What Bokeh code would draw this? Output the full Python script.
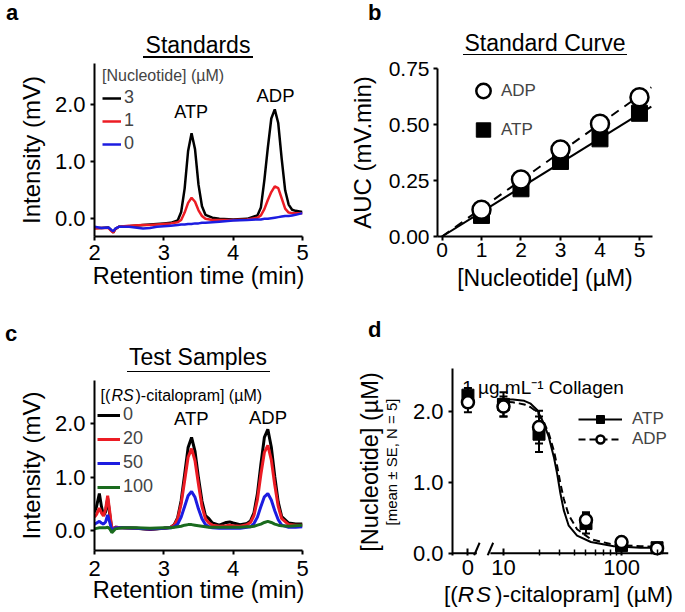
import numpy as np
from bokeh.plotting import figure
from bokeh.layouts import column, row
from bokeh.models import (Label, Legend, LegendItem, FixedTicker, PrintfTickFormatter,
                          Range1d, ColumnDataSource, Whisker, TeeHead, Div, LinearAxis)
from bokeh.embed import file_html
from bokeh.resources import INLINE

FONT = "Liberation Sans"

# ---------------- panel a : standards chromatograms ----------------
a_time = [2.00, 2.10, 2.20, 2.24, 2.27, 2.30, 2.35, 2.50, 2.70, 2.80, 2.90, 3.00, 3.10,
          3.20, 3.25, 3.30, 3.35, 3.40, 3.45, 3.50, 3.55, 3.60, 3.70, 3.80,
          4.00, 4.20, 4.35, 4.40, 4.45, 4.50, 4.55, 4.60, 4.65, 4.70, 4.75, 4.80, 4.85, 4.90, 5.00]
a_3uM = [-0.16, -0.16, -0.15, -0.20, -0.24, -0.18, -0.14, -0.13, -0.11, -0.10, -0.09, -0.08, -0.07,
         -0.03, 0.12, 0.53, 1.19, 1.50, 1.22, 0.60, 0.22, 0.07, 0.02, 0.00,
         -0.01, 0.00, 0.06, 0.20, 0.68, 1.25, 1.76, 1.92, 1.68, 1.05, 0.50, 0.25, 0.16, 0.14, 0.12]
a_1uM = [-0.17, -0.16, -0.16, -0.21, -0.24, -0.18, -0.14, -0.12, -0.11, -0.11, -0.10, -0.09, -0.08,
         -0.06, -0.02, 0.11, 0.28, 0.37, 0.30, 0.15, 0.05, 0.00, -0.02, -0.02,
         -0.02, -0.01, 0.02, 0.06, 0.17, 0.33, 0.47, 0.57, 0.54, 0.36, 0.18, 0.11, 0.10, 0.10, 0.10]
a_0uM = [-0.14, -0.16, -0.15, -0.19, -0.22, -0.17, -0.14, -0.14, -0.17, -0.16, -0.14, -0.13, -0.12,
         -0.11, -0.10, -0.10, -0.09, -0.09, -0.08, -0.08, -0.07, -0.07, -0.06, -0.05,
         -0.03, -0.02, -0.01, -0.01, 0.00, 0.00, 0.01, 0.02, 0.03, 0.04, 0.05, 0.05, 0.06, 0.07, 0.10]
a_labels = ["3", "1", "0"]

# ---------------- panel b : standard curve ----------------
b_conc = [1, 2, 3, 4, 5]
b_adp = [0.119, 0.254, 0.388, 0.503, 0.622]
b_atp = [0.094, 0.213, 0.335, 0.436, 0.550]
b_fit_range = [0.0, 5.3]

# ---------------- panel c : test samples ----------------
c_time = [2.00, 2.03, 2.07, 2.10, 2.13, 2.16, 2.19, 2.22, 2.25, 2.30, 2.40, 2.60, 2.80, 3.00,
          3.10, 3.15, 3.20, 3.25, 3.30, 3.35, 3.40, 3.45, 3.50, 3.55, 3.60, 3.65, 3.70,
          3.80, 3.90, 3.95, 4.00, 4.10,
          4.20, 4.25, 4.30, 4.35, 4.40, 4.45, 4.50, 4.55, 4.60, 4.65, 4.70,
          4.80, 4.90, 5.00]
c_0uM = [0.34, 0.45, 0.69, 0.45, 0.28, 0.35, 0.60, 0.30, 0.02, 0.06, 0.05, 0.04, 0.02, 0.04,
         0.06, 0.11, 0.24, 0.56, 1.05, 1.55, 1.74, 1.48, 0.98, 0.55, 0.28, 0.22, 0.14,
         0.10, 0.15, 0.16, 0.14, 0.11,
         0.13, 0.18, 0.33, 0.69, 1.24, 1.74, 1.89, 1.56, 1.01, 0.53, 0.26,
         0.14, 0.12, 0.12]
c_20uM = [0.25, 0.30, 0.42, 0.33, 0.27, 0.40, 0.65, 0.35, 0.02, 0.06, 0.05, 0.04, 0.03, 0.04,
          0.06, 0.10, 0.22, 0.50, 0.93, 1.37, 1.53, 1.30, 0.86, 0.45, 0.22, 0.14, 0.10,
          0.08, 0.09, 0.10, 0.09, 0.08,
          0.11, 0.15, 0.28, 0.58, 1.05, 1.46, 1.59, 1.32, 0.85, 0.45, 0.22,
          0.11, 0.10, 0.10]
c_50uM = [0.12, 0.14, 0.17, 0.14, 0.12, 0.16, 0.29, 0.15, 0.00, 0.05, 0.05, 0.04, 0.03, 0.04,
          0.05, 0.07, 0.12, 0.25, 0.45, 0.65, 0.73, 0.62, 0.40, 0.22, 0.11, 0.07, 0.05,
          0.04, 0.04, 0.04, 0.04, 0.04,
          0.06, 0.07, 0.13, 0.25, 0.45, 0.63, 0.69, 0.57, 0.37, 0.20, 0.10,
          0.06, 0.06, 0.07]
c_100uM = [0.03, 0.04, 0.05, 0.05, 0.05, 0.05, 0.06, 0.03, -0.04, 0.03, 0.05, 0.05, 0.04, 0.05,
           0.05, 0.06, 0.07, 0.08, 0.10, 0.11, 0.11, 0.10, 0.09, 0.08, 0.07, 0.06, 0.06,
           0.06, 0.06, 0.06, 0.06, 0.06,
           0.07, 0.07, 0.08, 0.10, 0.12, 0.15, 0.17, 0.15, 0.12, 0.10, 0.09,
           0.08, 0.09, 0.10]
c_labels = ["0", "20", "50", "100"]

# ---------------- panel d : concentration response ----------------
d_conc = [0, 10, 20, 50, 100, 200]
d_atp = [2.23, 2.10, 1.68, 0.42, 0.11, 0.08]
d_atp_se = [0.10, 0.17, 0.25, 0.14, 0.02, 0.02]
d_adp = [2.13, 2.07, 1.78, 0.47, 0.16, 0.07]
d_adp_se = [0.14, 0.14, 0.23, 0.11, 0.03, 0.02]
d_fit_x = [8.8, 12, 15, 17, 19.3, 22, 24.2, 26.7, 28.5, 30.4, 32.4, 35.7, 42, 55, 86, 145, 228]
d_fit_atp = [2.17, 2.17, 2.15, 2.11, 2.02, 1.83, 1.64, 1.36, 1.12, 0.84, 0.61, 0.39, 0.25, 0.16, 0.10, 0.08, 0.08]
d_fit_adp = [2.14, 2.13, 2.10, 2.06, 1.99, 1.85, 1.69, 1.45, 1.23, 0.98, 0.77, 0.54, 0.34, 0.20, 0.12, 0.10, 0.09]
D_ZERO_POS = 5.0                      # where "0" sits on the broken log axis
D_AXIS_PIECES = [(3.7, 5.95), (7.75, 250)]   # x-axis drawn in two pieces around the break
D_BREAKS = [5.95, 7.75]

BLACK, RED, BLUE, GREEN = "#000000", "#ec1c24", "#1c1ce0", "#1a6b1e"


def make_fig(w, h, bl, br, bt, bb, xr, yr, x_axis_type="linear"):
    p = figure(width=w, height=h, min_border_left=bl, min_border_right=br,
               min_border_top=bt, min_border_bottom=bb,
               x_range=Range1d(*xr), y_range=Range1d(*yr), x_axis_type=x_axis_type,
               output_backend="svg", toolbar_location=None)
    p.grid.visible = False
    p.outline_line_color = None
    p.background_fill_color = "white"
    p.border_fill_color = "white"
    for ax in p.axis:
        ax.axis_line_width = 2
        ax.axis_line_color = "black"
        ax.major_tick_line_width = 2
        ax.major_tick_line_color = "black"
        ax.major_tick_in = 0
        ax.major_tick_out = 4
        ax.minor_tick_line_color = None
        ax.major_label_text_font = FONT
        ax.major_label_text_color = "black"
        ax.axis_label_text_font = FONT
        ax.axis_label_text_font_style = "normal"
        ax.axis_label_text_color = "black"
    return p


def add_text(p, fl, fb, px, py, text, size, style="normal", align="left"):
    p.add_layout(Label(x=px - fl, y=fb - py, x_units="screen", y_units="screen", text=text,
                       text_font=FONT, text_font_size=f"{size}px", text_font_style=style,
                       text_align=align, text_baseline="alphabetic", text_color="black"))


def html_box(width, height, texts, rules=()):
    """texts: (left or center, baseline, html, size, weight, align, line-height) inside the box."""
    parts = [f'<div style="position:relative;width:{width}px;height:{height}px;'
             f"font-family:'Liberation Sans',Arial,sans-serif;color:#000;\">"]
    for x, base, txt, size, weight, align, lh in texts:
        lh = lh or size
        top = base - (0.5 * lh + 0.3465 * size)
        if align == "center":
            parts.append(f'<div style="position:absolute;left:{x - 100}px;width:200px;top:{top:.1f}px;'
                         f'text-align:center;font-size:{size}px;line-height:{lh}px;'
                         f'font-weight:{weight};white-space:nowrap;">{txt}</div>')
        else:
            parts.append(f'<div style="position:absolute;left:{x}px;top:{top:.1f}px;'
                         f'font-size:{size}px;line-height:{lh}px;font-weight:{weight};'
                         f'white-space:nowrap;">{txt}</div>')
    for x0, x1, y, t in rules:
        parts.append(f'<div style="position:absolute;left:{x0}px;width:{x1 - x0}px;top:{y}px;'
                     f'height:{t}px;background:#000;"></div>')
    parts.append("</div>")
    return Div(text="".join(parts), width=width, height=height, margin=0, sizing_mode="fixed")


# ================= panel a =================
FLa, FBa = 94, 236
hdr_a = html_box(340, 60, [(6, 20.5, "a", 22, "bold", "left", None),
                           (198, 53, "Standards", 23, "normal", "center", None)],
                 [(143, 253, 56, 1.5)])
pa = make_fig(340, 240, 94, 38, 3, 64, (2, 5), (-0.31, 2.725))
pa.xaxis.ticker = FixedTicker(ticks=[2, 3, 4, 5])
pa.yaxis.ticker = FixedTicker(ticks=[0, 1, 2])
pa.yaxis.formatter = PrintfTickFormatter(format="%.1f")
pa.xaxis.major_label_text_font_size = "22px"
pa.yaxis.major_label_text_font_size = "22px"
pa.xaxis.major_label_standoff = 4
pa.yaxis.major_label_standoff = 5
pa.xaxis.axis_label = "Retention time (min)"
pa.yaxis.axis_label = "Intensity (mV)"
pa.xaxis.axis_label_text_font_size = "23.5px"
pa.yaxis.axis_label_text_font_size = "24px"
pa.xaxis.axis_label_standoff = 0
pa.yaxis.axis_label_standoff = 7

ra3 = pa.line(a_time, a_3uM, line_color=BLACK, line_width=2.5)
ra1 = pa.line(a_time, a_1uM, line_color=RED, line_width=2.5)
ra0 = pa.line(a_time, a_0uM, line_color=BLUE, line_width=2.5)
leg_a = Legend(items=[LegendItem(label=a_labels[0], renderers=[ra3]),
                      LegendItem(label=a_labels[1], renderers=[ra1]),
                      LegendItem(label=a_labels[2], renderers=[ra0])],
               location=(8, 82), title="[Nucleotide] (µM)", title_text_font=FONT,
               title_text_font_size="16px", title_text_font_style="normal", title_standoff=2,
               label_text_font=FONT, label_text_font_size="18px", glyph_width=19, glyph_height=20,
               label_height=20, spacing=2, padding=0, margin=0, label_standoff=3,
               border_line_color=None, background_fill_alpha=0)
pa.add_layout(leg_a)
add_text(pa, FLa, FBa, 190.7, 111.7, "ATP", 18, align="center")
add_text(pa, FLa, FBa, 275, 95, "ADP", 18.5, align="center")

# ================= panel b =================
FLb, FBb = 437, 236
hdr_b = html_box(345, 55, [(28, 21, "b", 22, "bold", "left", None),
                           (205, 51.5, "Standard Curve", 23, "normal", "center", None)],
                 [(123, 287, 53.5, 1.5)])
pb = make_fig(345, 245, 97, 33, 13, 64, (-0.114, 5.33), (0, 0.75))
pb.xaxis.ticker = FixedTicker(ticks=[0, 1, 2, 3, 4, 5])
pb.yaxis.ticker = FixedTicker(ticks=[0, 0.25, 0.5, 0.75])
pb.yaxis.formatter = PrintfTickFormatter(format="%.2f")
pb.xaxis.major_label_text_font_size = "21px"
pb.yaxis.major_label_text_font_size = "21px"
pb.xaxis.major_label_standoff = 2
pb.yaxis.major_label_standoff = 4
pb.xaxis.axis_label = "[Nucleotide] (µM)"
pb.yaxis.axis_label = "AUC (mV.min)"
pb.xaxis.axis_label_text_font_size = "23px"
pb.yaxis.axis_label_text_font_size = "24px"
pb.xaxis.axis_label_standoff = 5
pb.yaxis.axis_label_standoff = 10

bx = np.array(b_conc, dtype=float)
slope_adp = float(np.sum(bx * np.array(b_adp)) / np.sum(bx * bx))
slope_atp = float(np.sum(bx * np.array(b_atp)) / np.sum(bx * bx))
fx = np.array(b_fit_range)
pb.line(fx, slope_adp * fx, line_color="black", line_width=2, line_dash="9 7")
pb.line(fx, slope_atp * fx, line_color="black", line_width=2)
rb_atp = pb.scatter(b_conc, b_atp, marker="square", size=16, fill_color="black", line_color="black")
rb_adp = pb.scatter(b_conc, b_adp, marker="circle", size=18, fill_color="white",
                    line_color="black", line_width=2.5)
leg_b = Legend(items=[LegendItem(label="ADP", renderers=[rb_adp]),
                      LegendItem(label="ATP", renderers=[rb_atp])],
               location=(28, 87), label_text_font=FONT, label_text_font_size="17px",
               glyph_width=36, glyph_height=39, label_height=39, spacing=0, padding=0, margin=0,
               label_standoff=0, border_line_color=None, background_fill_alpha=0)
pb.add_layout(leg_b)

# ================= panel c =================
FLc, FBc = 94, 550
hdr_c = html_box(340, 75, [(5, 42, "c", 22, "bold", "left", None),
                           (198, 65.5, "Test Samples", 23, "normal", "center", None)],
                 [(127, 270, 70.5, 1.5)])
pc = make_fig(340, 237, 94, 38, 5, 62, (2, 5), (-0.374, 2.804))
pc.xaxis.ticker = FixedTicker(ticks=[2, 3, 4, 5])
pc.yaxis.ticker = FixedTicker(ticks=[0, 1, 2])
pc.yaxis.formatter = PrintfTickFormatter(format="%.1f")
pc.xaxis.major_label_text_font_size = "22px"
pc.yaxis.major_label_text_font_size = "22px"
pc.xaxis.major_label_standoff = 6
pc.yaxis.major_label_standoff = 5
pc.xaxis.axis_label = "Retention time (min)"
pc.yaxis.axis_label = "Intensity (mV)"
pc.xaxis.axis_label_text_font_size = "23.5px"
pc.yaxis.axis_label_text_font_size = "24px"
pc.xaxis.axis_label_standoff = -2
pc.yaxis.axis_label_standoff = 7

rc0 = pc.line(c_time, c_0uM, line_color=BLACK, line_width=3)
rc20 = pc.line(c_time, c_20uM, line_color=RED, line_width=3)
rc50 = pc.line(c_time, c_50uM, line_color=BLUE, line_width=3)
rc100 = pc.line(c_time, c_100uM, line_color=GREEN, line_width=3)
leg_c = Legend(items=[LegendItem(label=lab, renderers=[r]) for lab, r in
                      zip(c_labels, [rc0, rc20, rc50, rc100])],
               location=(3, 53), label_text_font=FONT, label_text_font_size="18px",
               glyph_width=23, glyph_height=20, label_height=20, spacing=3, padding=0, margin=0,
               label_standoff=3, border_line_color=None, background_fill_alpha=0)
pc.add_layout(leg_c)
add_text(pc, FLc, FBc, 100, 395, "[(", 16)
add_text(pc, FLc, FBc, 111, 395, "RS", 16, style="italic")
add_text(pc, FLc, FBc, 135, 395, ")-citalopram] (µM)", 16)
add_text(pc, FLc, FBc, 190.8, 418.3, "ATP", 18.5, align="center")
add_text(pc, FLc, FBc, 267.5, 417.3, "ADP", 18.5, align="center")

# ================= panel d =================
FLd, FBd = 452, 555
hdr_d = html_box(345, 60, [(28, 38, "d", 22, "bold", "left", None)])
pd_ = make_fig(345, 224, 112, 17, 8, 29, (3.7, 250), (-0.03, 2.606), x_axis_type="log")
pd_.xaxis.ticker = FixedTicker(ticks=[D_ZERO_POS, 10, 100],
                               minor_ticks=[20, 30, 40, 50, 60, 70, 80, 90, 200])
pd_.xaxis.formatter = PrintfTickFormatter(format="%d")
pd_.xaxis.major_label_overrides = {D_ZERO_POS: "0", 10: "10", 100: "100"}
pd_.xaxis.axis_line_color = None
pd_.xaxis.major_tick_in = 7
pd_.xaxis.major_tick_out = 0
pd_.xaxis.minor_tick_line_color = "black"
pd_.xaxis.minor_tick_line_width = 1.5
pd_.xaxis.minor_tick_in = 6
pd_.xaxis.minor_tick_out = 0
pd_.xaxis.major_label_standoff = 4
pd_.yaxis.ticker = FixedTicker(ticks=[0, 1, 2])
pd_.yaxis.formatter = PrintfTickFormatter(format="%.1f")
pd_.xaxis.major_label_text_font_size = "22px"
pd_.yaxis.major_label_text_font_size = "22px"
pd_.yaxis.major_label_standoff = 5
pd_.yaxis.axis_label = "[mean ± SE, N = 5]"
pd_.yaxis.axis_label_text_font_size = "15px"
pd_.yaxis.axis_label_standoff = 10
ax_big = LinearAxis(ticker=FixedTicker(ticks=[]), axis_line_color=None,
                    major_tick_line_color=None, minor_tick_line_color=None,
                    major_label_text_font_size="0px",
                    axis_label="[Nucleotide] (µM)", axis_label_text_font=FONT,
                    axis_label_text_font_size="23.5px", axis_label_text_font_style="normal",
                    axis_label_text_color="black", axis_label_standoff=-3)
pd_.add_layout(ax_big, "left")

# broken x axis: two pieces plus slash marks
for x0, x1 in D_AXIS_PIECES:
    pd_.line([x0, x1], [0, 0], line_color="black", line_width=2)
pd_.segment(x0=[b / 1.055 for b in D_BREAKS], y0=[-0.03] * 2,
            x1=[b * 1.055 for b in D_BREAKS], y1=[0.15] * 2, line_color="black", line_width=2)

d_x = [c if c > 0 else D_ZERO_POS for c in d_conc]
src_atp = ColumnDataSource(dict(x=d_x, y=d_atp,
                                lo=[m - s for m, s in zip(d_atp, d_atp_se)],
                                hi=[m + s for m, s in zip(d_atp, d_atp_se)]))
src_adp = ColumnDataSource(dict(x=d_x, y=d_adp,
                                lo=[m - s for m, s in zip(d_adp, d_adp_se)],
                                hi=[m + s for m, s in zip(d_adp, d_adp_se)]))
for src in (src_atp, src_adp):
    pd_.add_layout(Whisker(source=src, base="x", lower="lo", upper="hi", dimension="height",
                           line_width=2, line_color="black", level="underlay",
                           upper_head=TeeHead(size=8, line_width=2, line_color="black"),
                           lower_head=TeeHead(size=8, line_width=2, line_color="black")))
rd_l_atp = pd_.line(d_fit_x, d_fit_atp, line_color="black", line_width=2)
rd_l_adp = pd_.line(d_fit_x, d_fit_adp, line_color="black", line_width=2, line_dash="7 4")
rd_atp = pd_.scatter("x", "y", source=src_atp, marker="square", size=12,
                     fill_color="black", line_color="black")
rd_adp = pd_.scatter("x", "y", source=src_adp, marker="circle", size=12,
                     fill_color="white", line_color="black", line_width=2.5)
leg_d = Legend(items=[LegendItem(label="ATP", renderers=[rd_l_atp, rd_atp]),
                      LegendItem(label="ADP", renderers=[rd_l_adp, rd_adp])],
               location=(126, 106), label_text_font=FONT, label_text_font_size="17px",
               glyph_width=44, glyph_height=20, label_height=20, spacing=0, padding=0, margin=0,
               label_standoff=10, border_line_color=None, background_fill_alpha=0)
pd_.add_layout(leg_d)
add_text(pd_, FLd, FBd, 461.7, 387.3, "1 µg mL⁻¹ Collagen", 19)
ftr_d = html_box(345, 28, [(104, 19, "[(<i style=\"padding-right:2px;letter-spacing:2px\">RS</i>)"
                                      "-citalopram] (µM)", 22.5, "normal", "left", None)])

# each figure sits in its own row so that the column does not align the plot frames
col_l = column(hdr_a, row(pa), hdr_c, row(pc))
col_r = column(hdr_b, row(pb), hdr_d, row(pd_), ftr_d)
layout = row(col_l, col_r)
open("out.html", "w").write(file_html(layout, INLINE))
